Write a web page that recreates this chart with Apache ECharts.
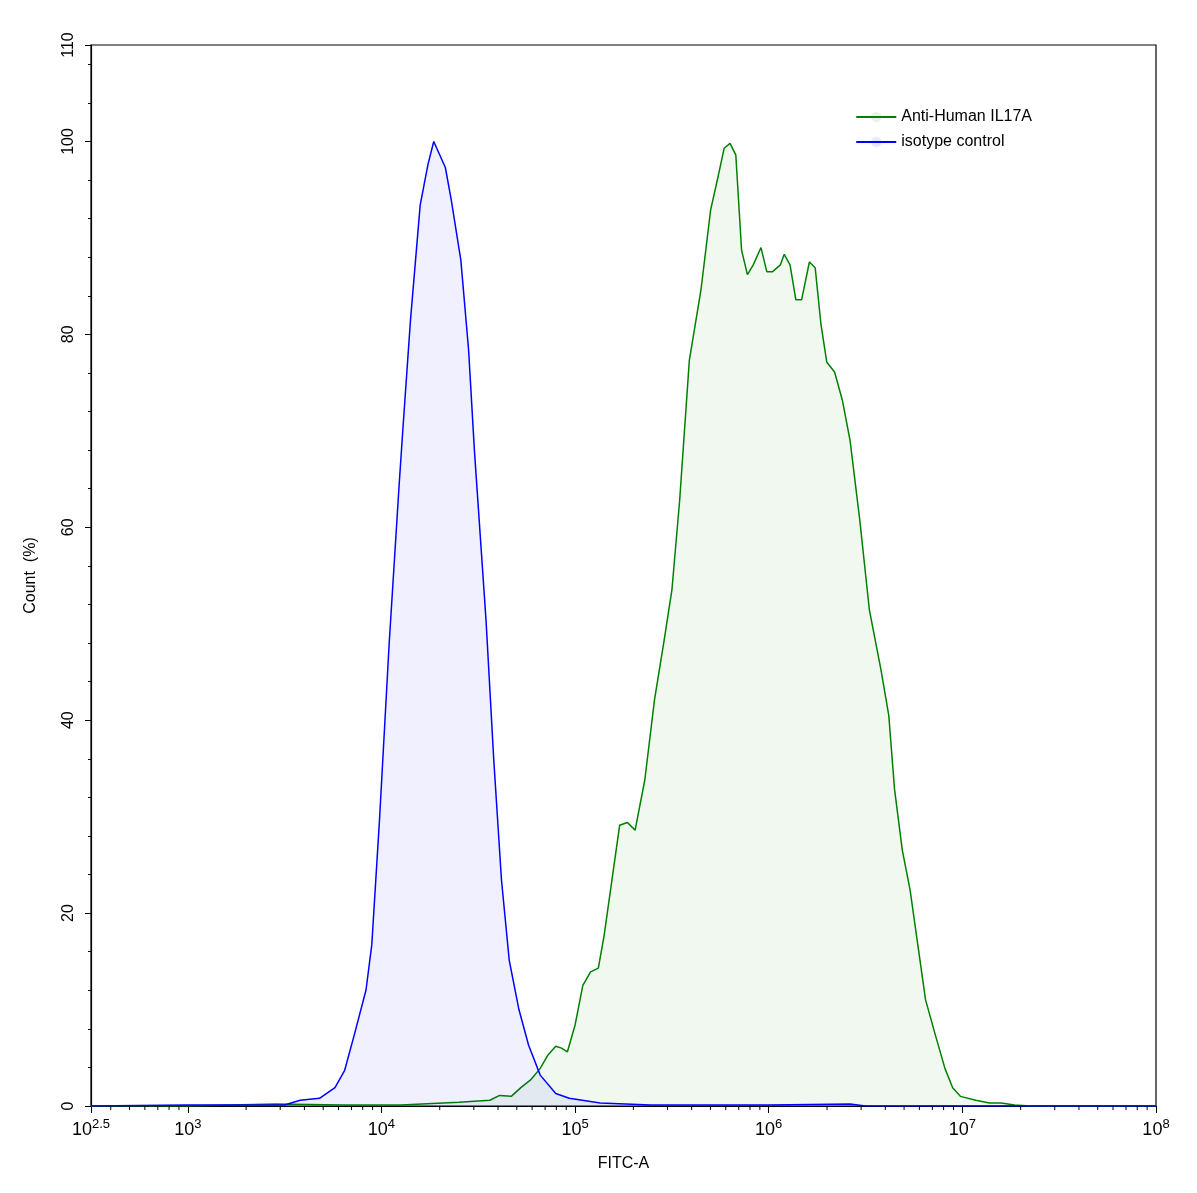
<!DOCTYPE html><html><head><meta charset="utf-8"><script src="https://cdn.jsdelivr.net/npm/echarts@6/dist/echarts.min.js"></script></head><body style="margin:0"><div id="c" style="width:1197px;height:1193px"></div><script>
const isoX=[2.5,3.0,3.5,3.58,3.68,3.76,3.81,3.86,3.92,3.95,3.99,4.04,4.09,4.11,4.15,4.20,4.24,4.27,4.33,4.36,4.41,4.45,4.48,4.54,4.58,4.62,4.66,4.71,4.76,4.82,4.90,4.97,5.13,5.39,6.0,6.42,6.5,7.0,8.0];
const isoY=[0,0.1,0.1,0.6,0.8,1.9,3.7,7.4,12,16.7,29.7,48,64,70,81.5,93.4,97.6,100,97.3,94,87.7,78.4,68,50.4,35.9,23.4,15.1,10,6.3,3.2,1.3,0.8,0.3,0.1,0.1,0.2,0,0,0];
const antiX=[2.5,3.0,3.45,3.8,4.1,4.4,4.56,4.61,4.67,4.72,4.77,4.82,4.86,4.90,4.93,4.96,5.0,5.04,5.08,5.12,5.15,5.19,5.23,5.27,5.31,5.36,5.41,5.46,5.50,5.54,5.59,5.65,5.70,5.74,5.77,5.80,5.83,5.86,5.89,5.92,5.96,5.99,6.02,6.06,6.08,6.11,6.14,6.17,6.21,6.24,6.27,6.30,6.34,6.38,6.42,6.47,6.52,6.58,6.62,6.65,6.69,6.73,6.77,6.81,6.86,6.91,6.95,6.99,7.07,7.14,7.2,7.27,7.35,8.0];
const antiY=[0,0,0.2,0.1,0.1,0.4,0.6,1.1,1.0,1.9,2.7,3.9,5.3,6.2,6.0,5.6,8.4,12.5,13.9,14.3,17.7,23.4,29.1,29.4,28.6,33.8,42.1,48.3,53.5,62.8,77.3,84.6,92.9,96.5,99.3,99.8,98.6,88.7,86.2,87.2,89,86.5,86.5,87.2,88.3,87.2,83.6,83.6,87.5,86.9,81,77.1,76.1,73.2,69,60.8,51.4,45.2,40.5,32.8,26.5,22.4,16.7,11,7.4,3.9,1.9,1.0,0.6,0.3,0.3,0.1,0,0];
const majorTicks=[2.5,3,4,5,6,7,8];
const minorTicks=[];
for(let n=2;n<8;n++)for(let k=2;k<10;k++){const v=n+Math.log10(k);if(v>2.5&&v<8)minorTicks.push(v);}
const zip=(a,b)=>a.map((x,i)=>[x,b[i]]);
const ch=echarts.init(document.getElementById('c'));
ch.setOption({
 animation:false,
 grid:{left:91,right:41,top:45,bottom:87,show:true,borderColor:'#000',borderWidth:1.2},
 legend:{right:160,top:104,orient:'vertical',itemGap:9,itemWidth:40,itemHeight:13,textStyle:{fontSize:16,color:'#000',fontFamily:'Liberation Sans'},data:['Anti-Human IL17A','isotype control']},
 xAxis:{type:'value',min:2.5,max:8,name:'FITC-A',nameLocation:'middle',nameGap:50,nameTextStyle:{fontSize:16,color:'#000',fontFamily:'Liberation Sans'},
  splitLine:{show:false},axisLine:{lineStyle:{color:'#000',width:1.2}},
  axisTick:{customValues:majorTicks,length:7,lineStyle:{color:'#000'}},
  axisLabel:{customValues:majorTicks,margin:12,color:'#000',formatter:v=>'{b|10}{s|'+(v===2.5?'2.5':v)+'}',
   rich:{b:{fontSize:18,fontFamily:'Liberation Sans',color:'#000'},s:{fontSize:13,fontFamily:'Liberation Sans',color:'#000',padding:[0,0,12,0]}}}},
 yAxis:{type:'value',min:0,max:110,interval:20,name:'Count  (%)',nameLocation:'middle',nameGap:52,nameTextStyle:{fontSize:16,color:'#000',fontFamily:'Liberation Sans'},
  splitLine:{show:false},axisLine:{lineStyle:{color:'#000',width:1.2}},axisTick:{length:6,lineStyle:{color:'#000'}},
  minorTick:{show:true,splitNumber:5,length:3,lineStyle:{color:'#000'}},
  axisLabel:{rotate:90,margin:14,fontSize:16,color:'#000',fontFamily:'Liberation Sans',showMaxLabel:true,customValues:[0,20,40,60,80,100,110]}},
 series:[
  {name:'Anti-Human IL17A',type:'line',symbol:'none',data:zip(antiX,antiY),lineStyle:{color:'#008000',width:1.5},itemStyle:{color:'rgba(0,128,0,0.09)',borderColor:'#008000'},areaStyle:{color:'rgba(0,128,0,0.085)'},z:3},
  {name:'isotype control',type:'line',symbol:'none',data:zip(isoX,isoY),lineStyle:{color:'#0000ff',width:1.5},itemStyle:{color:'rgba(0,0,255,0.09)',borderColor:'#0000ff'},areaStyle:{color:'rgba(0,0,255,0.085)'},z:4},
  {type:'custom',clip:false,silent:true,data:minorTicks.map(v=>[v,0]),renderItem:(p,api)=>{const c=api.coord([api.value(0),0]);return {type:'line',shape:{x1:c[0],y1:c[1],x2:c[0],y2:c[1]+4},style:{stroke:'#000',lineWidth:1}};},z:5}
 ]
});
</script></body></html>
